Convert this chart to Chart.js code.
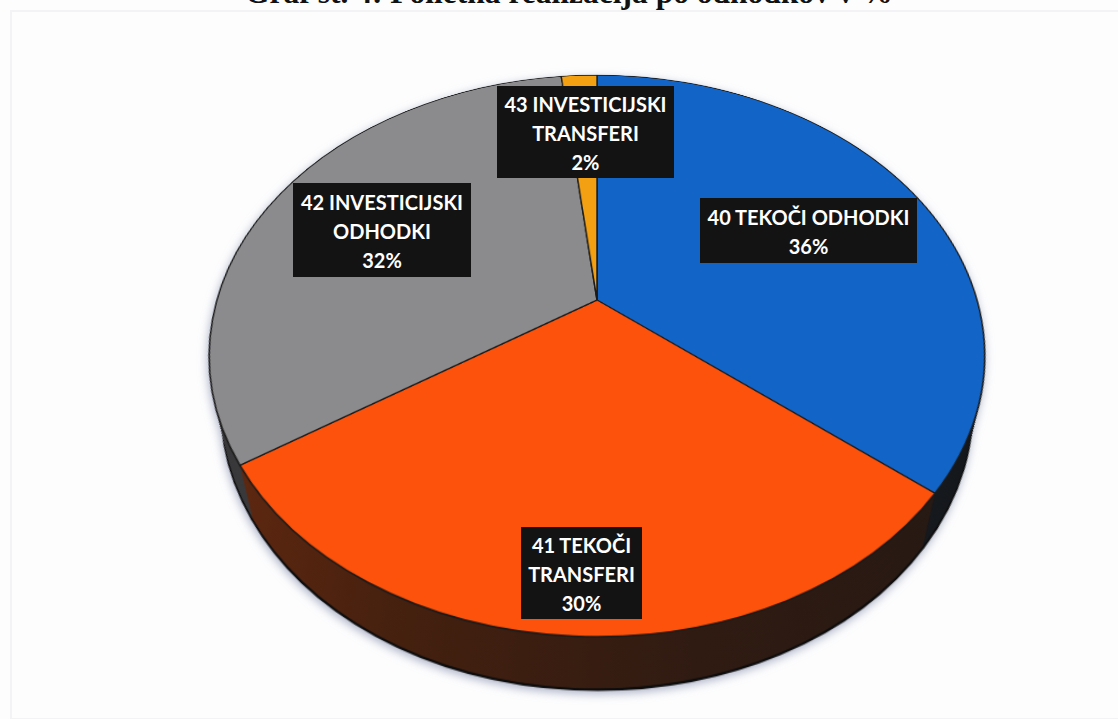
<!DOCTYPE html>
<html lang="sl">
<head>
<meta charset="utf-8">
<title>Graf št. 4</title>
<script src="https://cdn.jsdelivr.net/npm/chart.js@4"></script>
<style>
  html, body { margin: 0; padding: 0; background: #fdfdfe; }
  #page { position: relative; width: 1118px; height: 719px; overflow: hidden; }
  #title {
    position: absolute; left: 0; right: 0; top: -21px; text-align: center;
    font: bold 31.5px/28px "Liberation Serif", serif; color: #111;
    padding-left: 20px; white-space: nowrap;
  }
  #frame {
    position: absolute; left: 10px; top: 10px; width: 1120px; height: 706px;
    border: 2px solid #f3f3f6;
  }
  #pie-wrap {
    position: absolute; left: 0; top: 0; width: 1118px; height: 719px; overflow: hidden;
    filter: drop-shadow(-1px 3px 5px rgba(110, 120, 155, 0.55));
  }
  #pie-box {
    position: absolute; left: 147px; top: -150px; width: 900px; height: 900px;
    transform-origin: 50% 50%;
    transform: perspective(1344px) rotateX(44.8deg);
  }
  .tag {
    position: absolute; box-sizing: border-box; background: #131313; color: #fff;
    display: flex; flex-direction: column; justify-content: center; align-items: center;
    font: 700 20px/29px Lato, sans-serif; white-space: nowrap; padding-top: 2px;
  }
  #tag0 { left: 700px; top: 198px; width: 217px; height: 65px; }
  #tag1 { left: 521px; top: 527px; width: 121px; height: 92px; }
  #tag2 { left: 293px; top: 183px; width: 178px; height: 94px; }
  #tag3 { left: 497px; top: 86px; width: 177px; height: 92px; }
</style>
</head>
<body>
<div id="page">
  <div id="frame"></div>
  <div id="title">Graf št. 4: Polletna realizacija po odhodkov v %</div>
  <div id="pie-wrap"><div id="pie-box"><canvas id="pie" width="900" height="900"></canvas></div></div>
</div>
<script>
// values, slices run clockwise from 12 o'clock
const categories = ['40 TEKOČI ODHODKI', '41 TEKOČI TRANSFERI', '42 INVESTICIJSKI ODHODKI', '43 INVESTICIJSKI TRANSFERI'];
const labelLines = [['40 TEKOČI ODHODKI'], ['41 TEKOČI', 'TRANSFERI'], ['42 INVESTICIJSKI', 'ODHODKI'], ['43 INVESTICIJSKI', 'TRANSFERI']];
const percentLabels = ['36%', '30%', '32%', '2%'];
const shares = [35.8, 30, 32.4, 1.8];
const sliceColors = ['#1264c6', '#fd520b', '#8b8b8d', '#f4a013'];
const wallColors = ['#16191d', null, '#3a3a3c', '#6b4510'];
const wallDepth = 72;
const wallShrink = 26;

// extruded side of the pie: same arcs, repeated downwards and a bit smaller
// so the side only shows below the rim, top face is drawn after
const pieWall = {
  id: 'pieWall',
  beforeDatasetsDraw(chart) {
    const ctx = chart.ctx;
    const arcs = chart.getDatasetMeta(0).data;
    const cx = arcs[0].x, r = arcs[0].outerRadius;
    const red = ctx.createLinearGradient(cx - r, 0, cx + r, 0);
    red.addColorStop(0, '#682a10');
    red.addColorStop(0.3, '#44200f');
    red.addColorStop(0.6, '#301b12');
    red.addColorStop(1, '#231813');
    for (let d = wallDepth; d >= 1; d--) {
      ctx.save();
      ctx.translate(0, d);
      arcs.forEach((arc, i) => {
        const ghost = Object.create(arc);
        ghost.outerRadius = r - wallShrink * d / wallDepth;
        ghost.options = Object.assign({}, arc.options, {
          backgroundColor: wallColors[i] || red,
          borderColor: '#0c0c0c',
          borderWidth: d === wallDepth ? 3 : 0
        });
        ghost.draw(ctx);
      });
      ctx.restore();
    }
  }
};

new Chart(document.getElementById('pie'), {
  type: 'pie',
  data: {
    labels: categories,
    datasets: [{
      data: shares,
      backgroundColor: sliceColors,
      borderColor: '#1a1a1a',
      borderWidth: 1.5,
      radius: 380
    }]
  },
  options: {
    responsive: false,
    animation: false,
    plugins: { legend: { display: false }, tooltip: { enabled: false } }
  },
  plugins: [pieWall]
});

const page = document.getElementById('page');
labelLines.forEach((lines, i) => {
  const tag = document.createElement('div');
  tag.className = 'tag';
  tag.id = 'tag' + i;
  lines.concat(percentLabels[i]).forEach(t => {
    const row = document.createElement('span');
    row.textContent = t;
    tag.appendChild(row);
  });
  page.appendChild(tag);
});
</script>
</body>
</html>
